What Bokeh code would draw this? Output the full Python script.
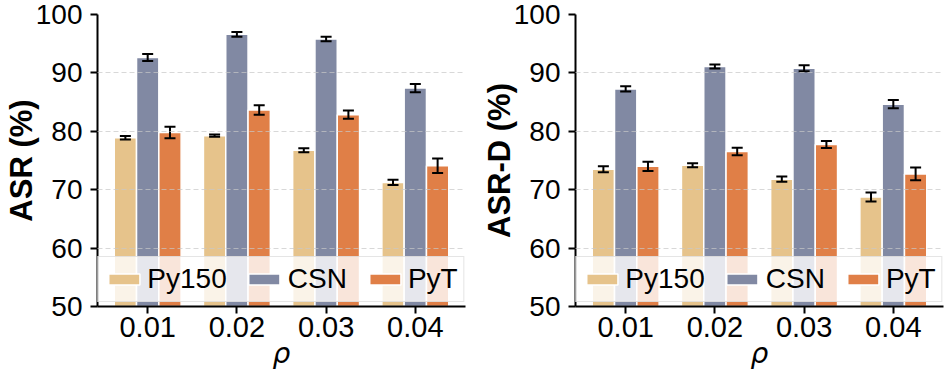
from bokeh.plotting import figure
from bokeh.models import (ColumnDataSource, FactorRange, Range1d, Whisker, TeeHead,
                          SingleIntervalTicker, Legend, LegendItem)
from bokeh.transform import dodge
from bokeh.layouts import row
from bokeh.embed import file_html
from bokeh.resources import INLINE

# ---- data ----
rho = ["0.01", "0.02", "0.03", "0.04"]
series = ["Py150", "CSN", "PyT"]

asr_py150 = [78.9, 79.25, 76.75, 71.25]
asr_csn = [92.65, 96.6, 95.8, 87.4]
asr_pyt = [79.8, 83.65, 82.85, 74.1]
asr_py150_err = [0.3, 0.2, 0.35, 0.45]
asr_csn_err = [0.6, 0.4, 0.4, 0.7]
asr_pyt_err = [1.0, 0.8, 0.7, 1.25]

asrd_py150 = [73.5, 74.2, 71.8, 68.75]
asrd_csn = [87.25, 91.1, 90.8, 84.65]
asrd_pyt = [74.0, 76.55, 77.75, 72.7]
asrd_py150_err = [0.5, 0.35, 0.45, 0.75]
asrd_csn_err = [0.45, 0.35, 0.5, 0.7]
asrd_pyt_err = [0.8, 0.65, 0.6, 1.1]

colors = ["#E6C38B", "#8189A3", "#E07F47"]
offsets = [-0.25, 0.0, 0.25]

FONT = "Liberation Sans"


def make(ylabel, vals, errs, width, border_right):
    p = figure(x_range=FactorRange(factors=rho, range_padding=0.03125),
               y_range=Range1d(50, 100),
               width=width, height=372, output_backend="svg", toolbar_location=None,
               min_border_left=97, min_border_right=border_right,
               min_border_top=14, min_border_bottom=66)
    p.outline_line_color = None
    p.background_fill_color = "white"
    p.border_fill_color = "white"

    items = []
    for name, v, e, c, off in zip(series, vals, errs, colors, offsets):
        src = ColumnDataSource(dict(x=rho, top=v,
                                    upper=[a + b for a, b in zip(v, e)],
                                    lower=[a - b for a, b in zip(v, e)]))
        r = p.vbar(x=dodge("x", off, range=p.x_range), top="top", bottom=0, width=0.25,
                   source=src, fill_color=c, line_color="white", line_width=1.5)
        items.append(LegendItem(label=name, renderers=[r]))
        w = Whisker(source=src, base=dodge("x", off, range=p.x_range),
                    upper="upper", lower="lower",
                    line_color="black", line_width=2, level="annotation",
                    upper_head=TeeHead(size=11, line_width=2, line_color="black"),
                    lower_head=TeeHead(size=11, line_width=2, line_color="black"))
        p.add_layout(w)

    p.yaxis.ticker = SingleIntervalTicker(interval=10, num_minor_ticks=0)
    for ax in (p.xaxis, p.yaxis):
        ax.axis_line_width = 2
        ax.axis_line_color = "black"
        ax.major_tick_line_width = 2
        ax.major_tick_line_color = "black"
        ax.major_tick_out = 7
        ax.major_tick_in = 0
        ax.minor_tick_line_color = None
        ax.major_label_text_font = FONT
        ax.major_label_text_font_size = "28px"
        ax.major_label_text_color = "black"
        ax.axis_label_text_color = "black"
    p.xaxis.major_label_text_font_size = "29px"
    p.xaxis.major_label_standoff = 3
    p.yaxis.major_label_standoff = 8
    p.xaxis.axis_label = "ρ"
    p.xaxis.axis_label_text_font = "DejaVu Sans"
    p.xaxis.axis_label_text_font_style = "italic"
    p.xaxis.axis_label_text_font_size = "28px"
    p.xaxis.axis_label_standoff = -3
    p.yaxis.axis_label = ylabel
    p.yaxis.axis_label_text_font = FONT
    p.yaxis.axis_label_text_font_style = "bold"
    p.yaxis.axis_label_text_font_size = "31px"
    p.yaxis.axis_label_standoff = -6

    p.xgrid.grid_line_color = None
    p.ygrid.grid_line_color = "#c8c8c8"
    p.ygrid.grid_line_dash = "5 3"
    p.ygrid.grid_line_width = 1
    p.ygrid.grid_line_alpha = 0.7
    p.ygrid.bounds = (55, 100.01)
    p.ygrid.level = "overlay"

    legend = Legend(items=items, location="bottom_center", orientation="horizontal",
                    margin=4, padding=6, spacing=18, label_standoff=4,
                    glyph_width=39, glyph_height=14,
                    label_text_font=FONT, label_text_font_size="28px",
                    label_text_color="black",
                    background_fill_color="white", background_fill_alpha=0.8,
                    border_line_color="#cccccc", border_line_width=1)
    p.add_layout(legend)
    return p


p1 = make("ASR (%)", [asr_py150, asr_csn, asr_pyt],
          [asr_py150_err, asr_csn_err, asr_pyt_err], 478, 13)
p2 = make("ASR-D (%)", [asrd_py150, asrd_csn, asrd_pyt],
          [asrd_py150_err, asrd_csn_err, asrd_pyt_err], 468, 3)

layout = row(p1, p2)
open("out.html", "w").write(file_html(layout, INLINE))
